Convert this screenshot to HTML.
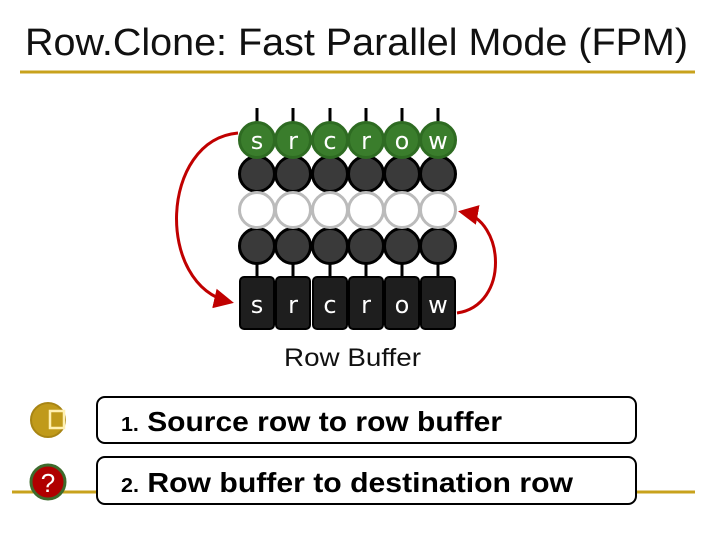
<!DOCTYPE html>
<html><head><style>
body{margin:0;width:720px;height:540px;background:#fff;overflow:hidden;font-family:"Liberation Sans",sans-serif;}
</style></head><body>
<svg width="720" height="540" viewBox="0 0 720 540" xmlns="http://www.w3.org/2000/svg">
<defs>
<marker id="ah2" viewBox="0 0 10 10" markerWidth="20" markerHeight="20" refX="8" refY="5" orient="auto" markerUnits="userSpaceOnUse">
<path d="M0,0 L10,5 L0,10 z" fill="#c00000"/>
</marker>
</defs>
<text x="25" y="55" font-size="38" textLength="663" lengthAdjust="spacingAndGlyphs" fill="#111">Row.Clone: Fast Parallel Mode (FPM)</text>
<line x1="20" y1="72" x2="695" y2="72" stroke="#c8a21c" stroke-width="3"/>
<line x1="12" y1="492" x2="695" y2="492" stroke="#c8a21c" stroke-width="3"/>
<g stroke="#000" stroke-width="3">
<line x1="257" y1="108" x2="257" y2="125"/><line x1="293" y1="108" x2="293" y2="125"/><line x1="330" y1="108" x2="330" y2="125"/><line x1="366" y1="108" x2="366" y2="125"/><line x1="402" y1="108" x2="402" y2="125"/><line x1="438" y1="108" x2="438" y2="125"/>
<line x1="257" y1="260" x2="257" y2="278"/><line x1="293" y1="260" x2="293" y2="278"/><line x1="330" y1="260" x2="330" y2="278"/><line x1="366" y1="260" x2="366" y2="278"/><line x1="402" y1="260" x2="402" y2="278"/><line x1="438" y1="260" x2="438" y2="278"/>
</g>
<g stroke-width="3">
<g fill="#3a3a3a" stroke="#000">
<circle cx="257" cy="174" r="17.5"/><circle cx="293" cy="174" r="17.5"/><circle cx="330" cy="174" r="17.5"/><circle cx="366" cy="174" r="17.5"/><circle cx="402" cy="174" r="17.5"/><circle cx="438" cy="174" r="17.5"/>
<circle cx="257" cy="246" r="17.5"/><circle cx="293" cy="246" r="17.5"/><circle cx="330" cy="246" r="17.5"/><circle cx="366" cy="246" r="17.5"/><circle cx="402" cy="246" r="17.5"/><circle cx="438" cy="246" r="17.5"/>
</g>
<g fill="#fff" stroke="#bbb">
<circle cx="257" cy="210" r="17.5"/><circle cx="293" cy="210" r="17.5"/><circle cx="330" cy="210" r="17.5"/><circle cx="366" cy="210" r="17.5"/><circle cx="402" cy="210" r="17.5"/><circle cx="438" cy="210" r="17.5"/>
</g>
<g fill="#3a7d2c" stroke="#2e6b22">
<circle cx="257" cy="140" r="17.5"/><circle cx="293" cy="140" r="17.5"/><circle cx="330" cy="140" r="17.5"/><circle cx="366" cy="140" r="17.5"/><circle cx="402" cy="140" r="17.5"/><circle cx="438" cy="140" r="17.5"/>
</g>
</g>
<g fill="#1e1e1e" stroke="#000" stroke-width="2">
<rect x="240" y="277" width="34" height="52" rx="4"/><rect x="276" y="277" width="34" height="52" rx="4"/><rect x="313" y="277" width="34" height="52" rx="4"/><rect x="349" y="277" width="34" height="52" rx="4"/><rect x="385" y="277" width="34" height="52" rx="4"/><rect x="421" y="277" width="34" height="52" rx="4"/>
</g>
<g fill="#fff" font-size="24" text-anchor="middle" font-family="DejaVu Sans,sans-serif">
<text x="257" y="149">s</text><text x="293" y="149">r</text><text x="330" y="149">c</text><text x="366" y="149">r</text><text x="402" y="149">o</text><text x="438" y="149">w</text>
<text x="257" y="313">s</text><text x="293" y="313">r</text><text x="330" y="313">c</text><text x="366" y="313">r</text><text x="402" y="313">o</text><text x="438" y="313">w</text>
</g>
<path d="M238,133 C160,140 155,285 230,302" fill="none" stroke="#c00000" stroke-width="3" marker-end="url(#ah2)"/>
<path d="M457,313 C510,305 505,220 462,212" fill="none" stroke="#c00000" stroke-width="3" marker-end="url(#ah2)"/>
<text x="284" y="366" font-size="25" textLength="137" lengthAdjust="spacingAndGlyphs" fill="#111">Row Buffer</text>
<circle cx="48" cy="420" r="17" fill="#c09a1a" stroke="#a88514" stroke-width="2"/>
<rect x="50" y="411" width="14" height="17" fill="#c09a1a" stroke="#fff0b0" stroke-width="2.5"/>
<circle cx="48" cy="482" r="17" fill="#b00000" stroke="#3d6b2c" stroke-width="3"/>
<text x="48" y="492" font-size="26" text-anchor="middle" fill="#fff">?</text>
<rect x="97" y="397" width="539" height="46" rx="8" fill="#fff" stroke="#000" stroke-width="2"/>
<rect x="97" y="457" width="539" height="47" rx="8" fill="#fff" stroke="#000" stroke-width="2"/>
<text x="121" y="431" font-size="28" font-weight="bold" fill="#000" textLength="381" lengthAdjust="spacingAndGlyphs"><tspan font-size="20">1.</tspan> Source row to row buffer</text>
<text x="121" y="492" font-size="28" font-weight="bold" fill="#000" textLength="452" lengthAdjust="spacingAndGlyphs"><tspan font-size="20">2.</tspan> Row buffer to destination row</text>
</svg>
</body></html>
